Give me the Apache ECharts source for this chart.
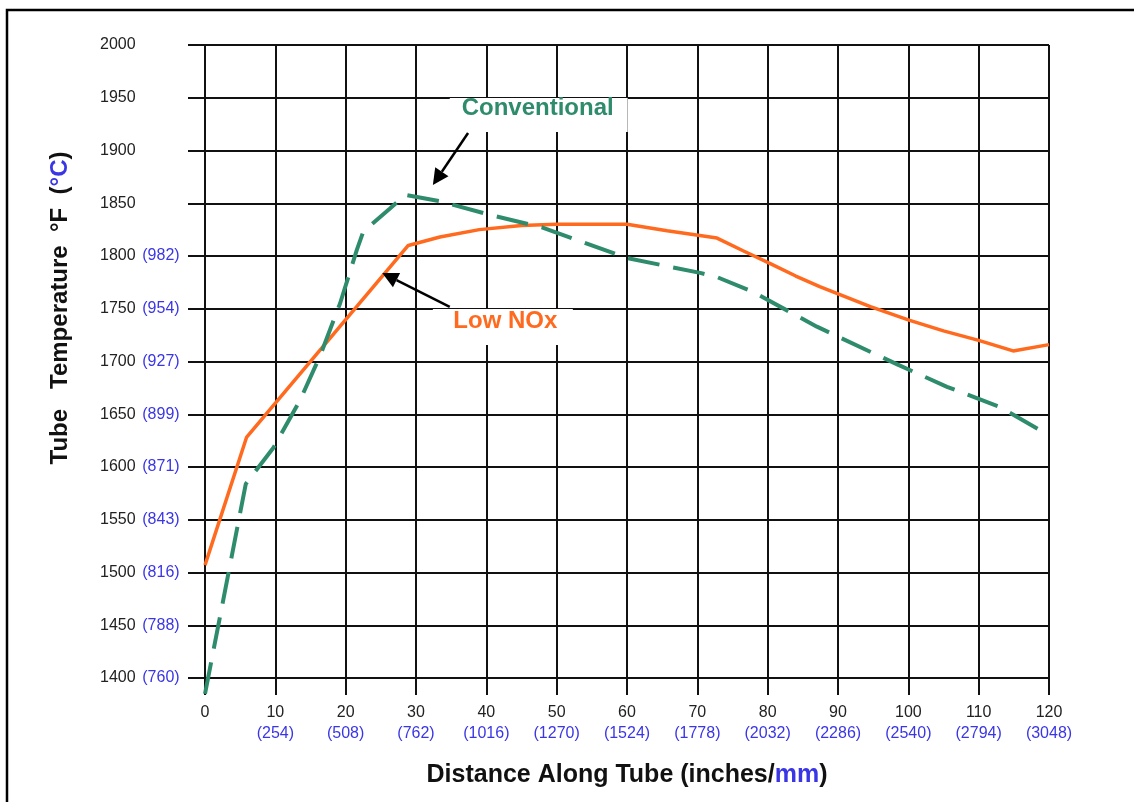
<!DOCTYPE html>
<html>
<head>
<meta charset="utf-8">
<script src="https://cdn.jsdelivr.net/npm/echarts@6/dist/echarts.min.js"></script>
<style>
  html, body { margin: 0; padding: 0; background: #fff; }
  #chart { width: 1134px; height: 802px; }
</style>
</head>
<body>
<div id="chart"></div>
<script>
// tick labels
const xTicks = [0, 10, 20, 30, 40, 50, 60, 70, 80, 90, 100, 110, 120]
const xTicksMm = ['', '254', '508', '762', '1016', '1270', '1524', '1778', '2032', '2286', '2540', '2794', '3048']
const yTicks = [1400, 1450, 1500, 1550, 1600, 1650, 1700, 1750, 1800]
const yTicksC = ['760', '788', '816', '843', '871', '899', '927', '954', '982']

// series values [inches, degF]
const lowNox = [
  [0, 1507], [5.9, 1628], [28.9, 1810], [33.4, 1818], [39, 1825], [45, 1829],
  [50, 1830], [60, 1830], [65.7, 1824], [72.8, 1817], [76.5, 1805], [80.3, 1793],
  [84, 1781], [87.4, 1771], [94.6, 1752], [100.2, 1739], [105, 1729], [110, 1720],
  [114.9, 1710], [120, 1716]
]
const conventional = [
  [0, 1385], [5.8, 1584], [9.7, 1618], [13.5, 1663], [16.4, 1706], [19.2, 1755],
  [21.6, 1806], [22.5, 1823], [26.3, 1845], [28.5, 1858], [33.4, 1852], [40.5, 1839],
  [48, 1827], [60, 1798], [70.4, 1784], [72.8, 1780], [77.9, 1766], [87, 1733],
  [98.5, 1697], [105.5, 1676], [113, 1657], [120, 1630]
]

const FONT = '"Liberation Sans", Arial, sans-serif'
const ORANGE = '#ff6a1f'
const GREEN = '#2e8c6c'
const BLUE = '#3a36e6'
const GRID = '#111111'

const chart = echarts.init(document.getElementById('chart'))

const option = {
  animation: false,
  backgroundColor: '#ffffff',
  grid: {
    left: 205,
    right: 85,
    top: 45,
    bottom: 124
  },
  xAxis: {
    type: 'value',
    min: 0,
    max: 120,
    interval: 10,
    name: '{a|Distance Along Tube (inches/}{b|mm}{a|)}',
    nameLocation: 'middle',
    nameGap: 85,
    nameTextStyle: {
      rich: {
        a: { fontFamily: FONT, fontSize: 25, fontWeight: 'bold', color: '#111' },
        b: { fontFamily: FONT, fontSize: 25, fontWeight: 'bold', color: BLUE }
      }
    },
    axisLine: { show: true, lineStyle: { color: GRID, width: 2 } },
    axisTick: { show: true, length: 17, lineStyle: { color: GRID, width: 2 } },
    splitLine: { show: true, lineStyle: { color: GRID, width: 2 } },
    axisLabel: {
      margin: 24,
      formatter: (v) => {
        const i = xTicks.indexOf(v)
        const mm = i >= 0 ? xTicksMm[i] : ''
        return mm ? `{f|${v}}\n{c|(${mm})}` : `{f|${v}}`
      },
      rich: {
        f: { fontFamily: FONT, fontSize: 16, color: '#222', lineHeight: 21 },
        c: { fontFamily: FONT, fontSize: 16, color: BLUE, lineHeight: 21 }
      }
    }
  },
  yAxis: {
    type: 'value',
    min: 1400,
    max: 2000,
    interval: 50,
    axisLine: { show: true, lineStyle: { color: GRID, width: 2 } },
    axisTick: { show: true, length: 17, lineStyle: { color: GRID, width: 2 } },
    splitLine: { show: true, lineStyle: { color: GRID, width: 2 } },
    axisLabel: {
      align: 'left',
      margin: 105,
      formatter: (v) => {
        const i = yTicks.indexOf(v)
        return i >= 0 ? `{f|${v}}  {c|(${yTicksC[i]})}` : `{f|${v}}`
      },
      rich: {
        f: { fontFamily: FONT, fontSize: 16, color: '#222' },
        c: { fontFamily: FONT, fontSize: 16, color: BLUE }
      }
    }
  },
  series: [
    {
      name: 'Low NOx',
      type: 'line',
      data: lowNox,
      showSymbol: false,
      clip: false,
      z: 3,
      lineStyle: { color: ORANGE, width: 3.5 }
    },
    {
      name: 'Conventional',
      type: 'line',
      data: conventional,
      showSymbol: false,
      clip: false,
      z: 4,
      lineStyle: { color: GREEN, width: 4, type: [32, 14] }
    }
  ]
}

chart.setOption(option)

// annotations, placed in data coordinates
const px = (p) => chart.convertToPixel({ gridIndex: 0 }, p)

const labelBox = (tl, br, center, text, color) => {
  const a = px(tl)
  const b = px(br)
  const c = px(center)
  return [
    {
      type: 'rect',
      z: 100,
      shape: { x: a[0], y: a[1], width: b[0] - a[0], height: b[1] - a[1] },
      style: { fill: '#ffffff' }
    },
    {
      type: 'text',
      z: 101,
      x: c[0],
      y: c[1],
      style: {
        text: text,
        fill: color,
        font: `bold 24px ${FONT}`,
        align: 'center',
        verticalAlign: 'middle'
      }
    }
  ]
}

const arrow = (from, to) => {
  const s = px(from)
  const e = px(to)
  const dx = e[0] - s[0]
  const dy = e[1] - s[1]
  const len = Math.sqrt(dx * dx + dy * dy)
  const ux = dx / len
  const uy = dy / len
  const headLen = 16
  const headHalf = 8
  const bx = e[0] - ux * headLen
  const by = e[1] - uy * headLen
  return [
    {
      type: 'line',
      z: 102,
      shape: { x1: s[0], y1: s[1], x2: bx, y2: by },
      style: { stroke: '#000', lineWidth: 2.5 }
    },
    {
      type: 'polygon',
      z: 102,
      shape: {
        points: [
          [e[0], e[1]],
          [bx - uy * headHalf, by + ux * headHalf],
          [bx + uy * headHalf, by - ux * headHalf]
        ]
      },
      style: { fill: '#000' }
    }
  ]
}

const graphics = [
  ...labelBox([34.8, 1949.8], [60.1, 1917.5], [47.3, 1940.3], 'Conventional', GREEN),
  ...arrow([37.4, 1916.6], [32.4, 1867.3]),
  ...labelBox([32.4, 1749.8], [52.3, 1715.6], [42.7, 1738.5], 'Low NOx', ORANGE),
  ...arrow([34.8, 1751.7], [25.2, 1783.9]),
  {
    type: 'text',
    z: 100,
    x: 60,
    y: 308,
    rotation: Math.PI / 2,
    style: {
      text: '{a|Tube   Temperature  °F  (}{b|°C}{a|)}',
      align: 'center',
      verticalAlign: 'middle',
      rich: {
        a: { fontFamily: FONT, fontSize: 24, fontWeight: 'bold', fill: '#111' },
        b: { fontFamily: FONT, fontSize: 24, fontWeight: 'bold', fill: BLUE }
      }
    }
  },
  // page frame (left and top edges)
  {
    type: 'polyline',
    z: 100,
    shape: { points: [[7, 802], [7, 10], [1134, 10]] },
    style: { stroke: '#000', lineWidth: 2.5, fill: null }
  }
]

chart.setOption({ graphic: graphics })
</script>
</body>
</html>
